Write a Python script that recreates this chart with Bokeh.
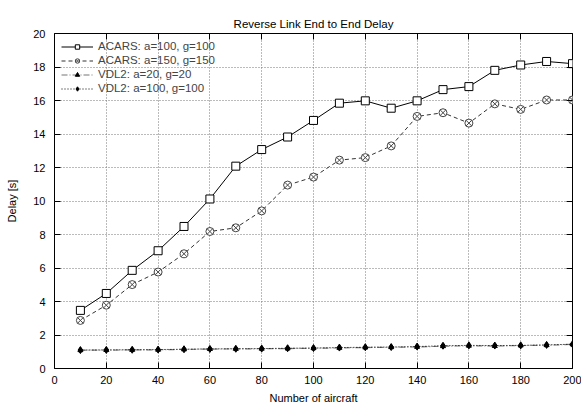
from bokeh.plotting import figure
from bokeh.models import LinearAxis, FixedTicker, Legend, LegendItem, Range1d
from bokeh.embed import file_html
from bokeh.resources import INLINE

aircraft = [10, 20, 30, 40, 50, 60, 70, 80, 90, 100, 110, 120, 130, 140, 150, 160, 170, 180, 190, 200]
acars_100 = [3.47, 4.48, 5.86, 7.03, 8.48, 10.12, 12.08, 13.07, 13.82, 14.81, 15.84, 15.98, 15.54, 15.98, 16.65, 16.83, 17.8, 18.12, 18.33, 18.2]
acars_150 = [2.87, 3.78, 5.01, 5.76, 6.85, 8.18, 8.40, 9.41, 10.95, 11.43, 12.44, 12.59, 13.29, 15.05, 15.27, 14.65, 15.8, 15.47, 16.03, 16.03]
vdl2_20 = [1.09, 1.10, 1.11, 1.12, 1.14, 1.16, 1.17, 1.18, 1.19, 1.21, 1.23, 1.25, 1.27, 1.29, 1.33, 1.36, 1.34, 1.37, 1.39, 1.44]
vdl2_100 = [1.10, 1.11, 1.12, 1.13, 1.15, 1.17, 1.18, 1.19, 1.21, 1.22, 1.25, 1.27, 1.28, 1.31, 1.36, 1.38, 1.37, 1.38, 1.41, 1.45]
labels = ["ACARS: a=100, g=100", "ACARS: a=150, g=150", "VDL2: a=20, g=20", "VDL2: a=100, g=100"]
x_ticks = [0, 20, 40, 60, 80, 100, 120, 140, 160, 180, 200]
y_ticks = [0, 2, 4, 6, 8, 10, 12, 14, 16, 18, 20]

FONT = "Liberation Sans"

p = figure(width=581, height=406, x_range=Range1d(0, 200), y_range=Range1d(0, 20),
           output_backend="svg", toolbar_location=None,
           title="Reverse Link End to End Delay",
           min_border_left=54, min_border_right=9, min_border_top=33, min_border_bottom=37)
p.title.align = "center"
p.title.vertical_align = "top"
p.title.text_font = FONT
p.title.text_font_size = "11.5px"
p.title.text_font_style = "normal"
p.title.text_color = "black"
p.title.standoff = 4

p.outline_line_color = "black"
p.outline_line_width = 1
p.background_fill_color = "white"

for ax, ticks in ((p.xaxis[0], x_ticks), (p.yaxis[0], y_ticks)):
    ax.ticker = FixedTicker(ticks=ticks)
    ax.major_tick_in = 6
    ax.major_tick_out = 0
    ax.minor_tick_line_color = None
    ax.axis_line_color = None
    ax.major_tick_line_color = "black"
    ax.major_label_text_font = FONT
    ax.major_label_text_font_size = "11px"
    ax.major_label_text_color = "black"
    ax.axis_label_text_font = FONT
    ax.axis_label_text_font_size = "11px"
    ax.axis_label_text_font_style = "normal"
    ax.axis_label_text_color = "black"
p.xaxis[0].axis_label = "Number of aircraft"
p.yaxis[0].axis_label = "Delay [s]"
p.xaxis[0].major_label_standoff = 7
p.yaxis[0].major_label_standoff = 9
p.xaxis[0].axis_label_standoff = 5
p.yaxis[0].axis_label_standoff = 12

# mirrored ticks (no labels drawn)
top = LinearAxis(ticker=FixedTicker(ticks=x_ticks), major_label_text_font_size="1px",
                 major_label_text_color=None,
                 major_tick_in=6, major_tick_out=0, minor_tick_line_color=None,
                 axis_line_color=None, major_label_standoff=0)
right = LinearAxis(ticker=FixedTicker(ticks=y_ticks), major_label_text_font_size="1px",
                   major_label_text_color=None,
                   major_tick_in=6, major_tick_out=0, minor_tick_line_color=None,
                   axis_line_color=None, major_label_standoff=0)
p.add_layout(top, "above")
p.add_layout(right, "right")

p.xgrid[0].ticker = FixedTicker(ticks=x_ticks[1:-1])
p.ygrid[0].ticker = FixedTicker(ticks=y_ticks[1:-1])
for g in (p.xgrid[0], p.ygrid[0]):
    g.grid_line_color = "#777777"
    g.grid_line_dash = "1 2"
    g.grid_line_width = 1

l1 = p.line(aircraft, acars_100, line_color="black", line_width=1)
m1 = p.scatter(aircraft, acars_100, marker="square", size=8, line_color="black", fill_color="white", line_width=1)
l2 = p.line(aircraft, acars_150, line_color="#333333", line_width=1, line_dash="4 3")
m2 = p.scatter(aircraft, acars_150, marker="circle_x", size=8, line_color="#444444", fill_color="white", line_width=1)
l3 = p.line(aircraft, vdl2_20, line_color="#777777", line_width=1.2, line_dash="6 2 1 2")
m3 = p.scatter(aircraft, vdl2_20, marker="triangle", size=5, line_color="black", fill_color="black")
l4 = p.line(aircraft, vdl2_100, line_color="black", line_width=1, line_dash="1 2")
m4 = p.scatter(aircraft, vdl2_100, marker="diamond", size=7, line_color="black", fill_color="black")

legend = Legend(items=[
    LegendItem(label=labels[0], renderers=[l1, m1]),
    LegendItem(label=labels[1], renderers=[l2, m2]),
    LegendItem(label=labels[2], renderers=[l3, m3]),
    LegendItem(label=labels[3], renderers=[l4, m4]),
], location="top_left")
legend.background_fill_alpha = 0
legend.border_line_alpha = 0
legend.label_text_font = FONT
legend.label_text_font_size = "11.5px"
legend.label_height = 11
legend.glyph_height = 11
legend.glyph_width = 32
legend.spacing = 2
legend.padding = 3
legend.margin = 4
p.add_layout(legend)

open("out.html", "w").write(file_html(p, INLINE))
